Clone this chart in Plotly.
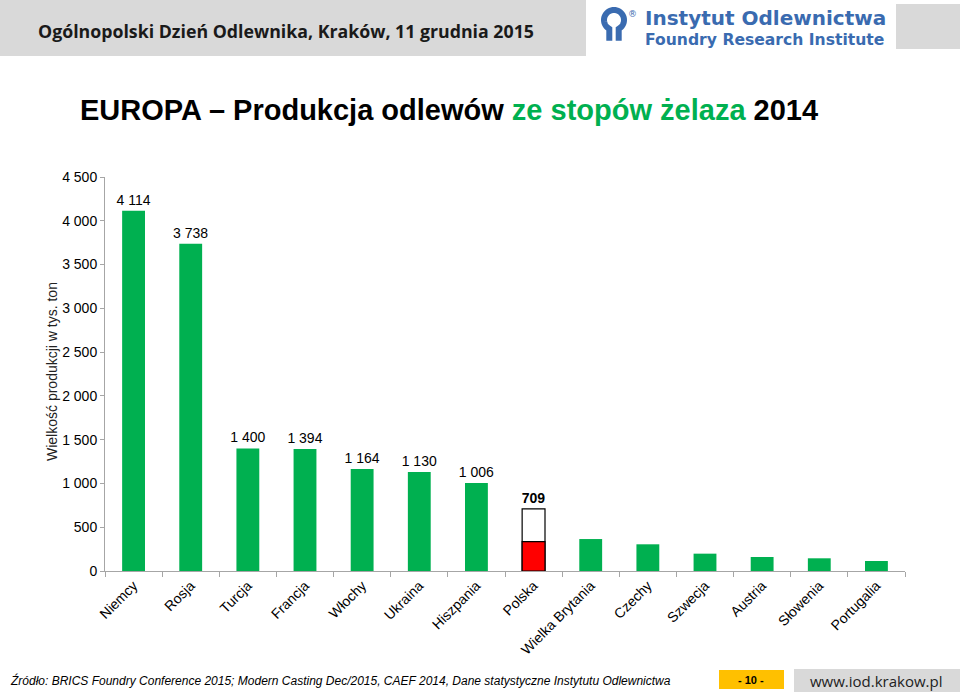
import plotly.graph_objects as go
import math

countries = ["Niemcy", "Rosja", "Turcja", "Francja", "Włochy", "Ukraina", "Hiszpania",
             "Polska", "Wielka Brytania", "Czechy", "Szwecja", "Austria", "Słowenia", "Portugalia"]
production = [4114, 3738, 1400, 1394, 1164, 1130, 1006, 709, 365, 305, 198, 160, 145, 114]
labelled = ["Niemcy", "Rosja", "Turcja", "Francja", "Włochy", "Ukraina", "Hiszpania", "Polska"]
highlight = "Polska"
polska_part = [335]

GREEN = "#00B050"
RED = "#FF0000"
BLUE = "#3A6BB0"

W, H = 960, 692
L, R, T, B = 105, 55, 177, 121
PW, PH = W - L - R, H - T - B


def X(px):
    return (px - L) / PW


def Y(py):
    return (H - B - py) / PH


def fmt(v):
    return f"{v:,}".replace(",", " ")


texts = []
for c, v in zip(countries, production):
    if c == highlight:
        texts.append(f"<b>{fmt(v)}</b>")
    elif c in labelled:
        texts.append(fmt(v))
    else:
        texts.append("")

colors = ["white" if c == highlight else GREEN for c in countries]
line_colors = ["black" if c == highlight else GREEN for c in countries]
line_widths = [1.2 if c == highlight else 0 for c in countries]

fig = go.Figure()
fig.add_trace(go.Bar(
    x=countries, y=production, text=texts, textposition="outside", constraintext="none",
    textfont=dict(family="Liberation Sans, Arial", size=14, color="black"),
    marker=dict(color=colors, line=dict(color=line_colors, width=line_widths)),
    cliponaxis=False, hoverinfo="x+y",
))
fig.add_trace(go.Bar(
    x=[highlight], y=polska_part,
    marker=dict(color=RED, line=dict(color="black", width=1.2)),
    hoverinfo="x+y",
))

shapes = []
annotations = []

# header gray bars
shapes.append(dict(type="rect", xref="paper", yref="paper", x0=X(0), x1=X(586), y0=Y(0), y1=Y(56),
                   fillcolor="#D9D9D9", line=dict(width=0), layer="below"))
shapes.append(dict(type="rect", xref="paper", yref="paper", x0=X(896), x1=X(960), y0=Y(4), y1=Y(49),
                   fillcolor="#D9D9D9", line=dict(width=0), layer="below"))
# footer boxes
shapes.append(dict(type="rect", xref="paper", yref="paper", x0=X(719), x1=X(784), y0=Y(670), y1=Y(689),
                   fillcolor="#FFC000", line=dict(width=0), layer="below"))
shapes.append(dict(type="rect", xref="paper", yref="paper", x0=X(794), x1=X(960), y0=Y(669), y1=Y(692),
                   fillcolor="#D9D9D9", line=dict(width=0), layer="below"))

# logo: ring opening at the bottom, with two short legs
cx, cy, r = 614, 20, 10
pts = []
for k in range(41):
    a = math.radians(-62 + k * 304 / 40)
    pts.append((cx + r * math.cos(a), cy - r * math.sin(a)))
p_first, p_last = pts[0], pts[-1]
path = f"M {X(p_first[0]):.5f},{Y(p_first[1] + 12):.5f} L {X(p_first[0]):.5f},{Y(p_first[1]):.5f} "
path += " ".join(f"L {X(px):.5f},{Y(py):.5f}" for px, py in pts[1:])
path += f" L {X(p_last[0]):.5f},{Y(p_last[1] + 12):.5f}"
shapes.append(dict(type="path", xref="paper", yref="paper", path=path,
                   line=dict(color=BLUE, width=6)))
annotations.append(dict(x=X(632), y=Y(7), xref="paper", yref="paper", text="®", showarrow=False,
                        font=dict(family="DejaVu Sans", size=9, color=BLUE)))

annotations.append(dict(x=X(36), y=Y(31), xref="paper", yref="paper", xanchor="left", yanchor="middle",
                        text="<b>Ogólnopolski Dzień Odlewnika, Kraków, 11 grudnia 2015</b>", showarrow=False,
                        font=dict(family="Open Sans", size=17.75, color="#1a1a1a")))
annotations.append(dict(x=X(643), y=Y(18), xref="paper", yref="paper", xanchor="left", yanchor="middle",
                        text="<b>Instytut Odlewnictwa</b>", showarrow=False,
                        font=dict(family="DejaVu Sans", size=20, color=BLUE)))
annotations.append(dict(x=X(643), y=Y(40), xref="paper", yref="paper", xanchor="left", yanchor="middle",
                        text="<b>Foundry Research Institute</b>", showarrow=False,
                        font=dict(family="DejaVu Sans", size=15.6, color=BLUE)))

# title
annotations.append(dict(x=X(449), y=Y(110), xref="paper", yref="paper", xanchor="center", yanchor="middle",
                        text=f"<b>EUROPA – Produkcja odlewów <span style='color:{GREEN}'>ze stopów żelaza</span> 2014</b>",
                        showarrow=False,
                        font=dict(family="Liberation Sans, Arial", size=29, color="black")))

# y axis title
annotations.append(dict(x=X(52), y=Y(372), xref="paper", yref="paper", xanchor="center", yanchor="middle",
                        text="Wielkość produkcji w tys. ton", textangle=-90, showarrow=False,
                        font=dict(family="Liberation Sans, Arial", size=14, color="#222")))

# footer
annotations.append(dict(x=X(8), y=Y(680), xref="paper", yref="paper", xanchor="left", yanchor="middle",
                        text="<i>Źródło: BRICS Foundry Conference 2015; Modern Casting Dec/2015, CAEF 2014, Dane statystyczne Instytutu Odlewnictwa</i>",
                        showarrow=False, font=dict(family="Liberation Sans, Arial", size=12, color="black")))
annotations.append(dict(x=X(751), y=Y(680), xref="paper", yref="paper", xanchor="center", yanchor="middle",
                        text="<b>- 10 -</b>", showarrow=False,
                        font=dict(family="Liberation Sans, Arial", size=11, color="black")))
annotations.append(dict(x=X(876), y=Y(681), xref="paper", yref="paper", xanchor="center", yanchor="middle",
                        text="www.iod.krakow.pl", showarrow=False,
                        font=dict(family="Open Sans", size=15, color="#222")))

fig.update_layout(
    width=W, height=H, autosize=False,
    margin=dict(l=L, r=R, t=T, b=B, pad=0),
    paper_bgcolor="white", plot_bgcolor="white",
    barmode="overlay", bargap=0.6, showlegend=False,
    separators=". ",
    font=dict(family="Liberation Sans, Arial", size=14, color="black"),
    shapes=shapes, annotations=annotations,
    xaxis=dict(tickangle=-45, tickson="boundaries", ticks="outside", ticklen=5, tickcolor="#A6A6A6",
               showline=True, linecolor="#A6A6A6", linewidth=1, showgrid=False,
               tickfont=dict(family="Liberation Sans, Arial", size=14, color="black")),
    yaxis=dict(range=[0, 4500], dtick=500, tickformat=",d", ticks="outside", ticklen=4, tickcolor="#A6A6A6",
               showline=True, linecolor="#A6A6A6", linewidth=1, showgrid=False, zeroline=False,
               tickfont=dict(family="Liberation Sans, Arial", size=14, color="black")),
)

fig.write_html("out.html", config={"displayModeBar": False},
               post_script="document.body.style.margin='0px';document.body.style.padding='0px';")
